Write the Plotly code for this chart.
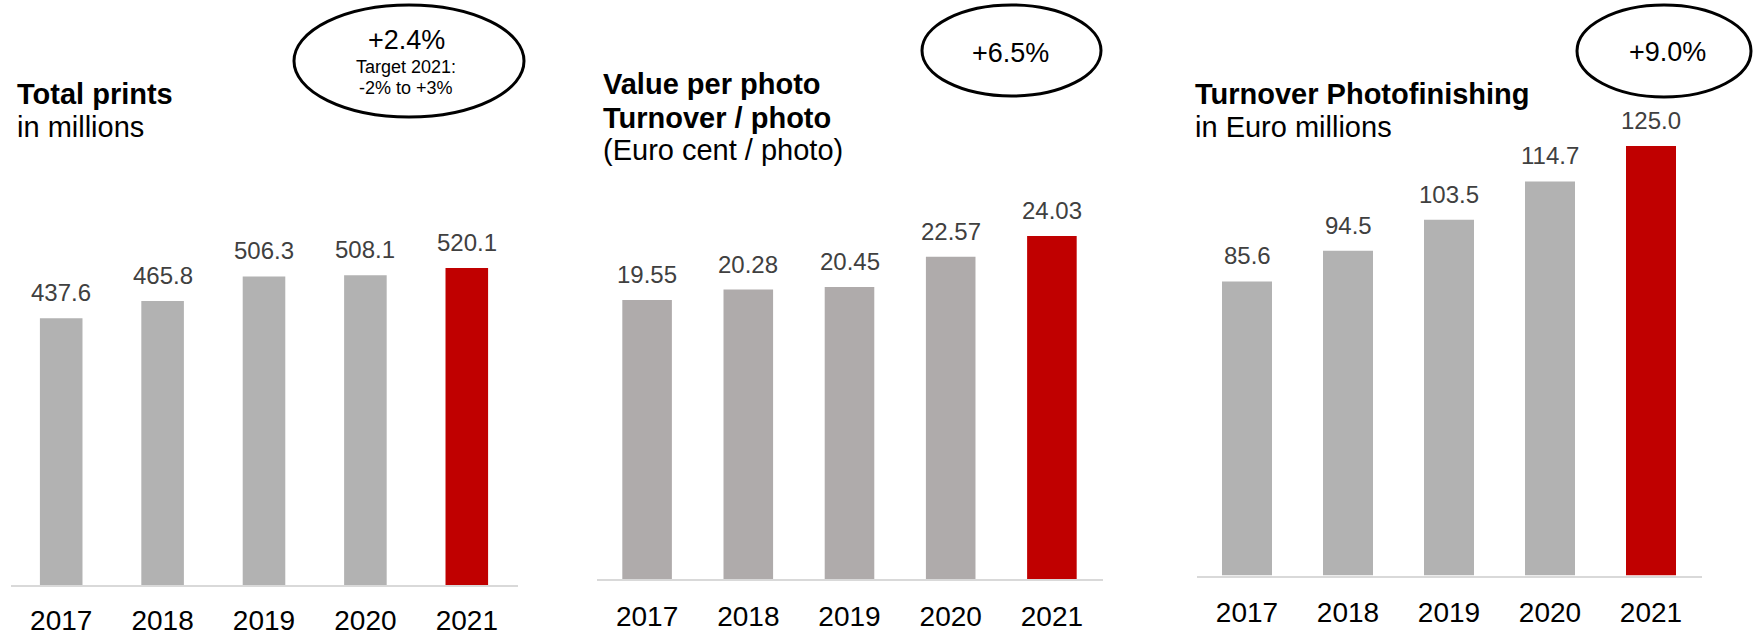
import plotly.graph_objects as go

# ---- data -------------------------------------------------------------
years = ["2017", "2018", "2019", "2020", "2021"]

total_prints = [437.6, 465.8, 506.3, 508.1, 520.1]            # millions
value_per_photo = [19.55, 20.28, 20.45, 22.57, 24.03]         # euro cent / photo
turnover_photofinishing = [85.6, 94.5, 103.5, 114.7, 125.0]   # euro millions

growth_labels = ["+2.4%", "+6.5%", "+9.0%"]
target_note = ["Target 2021:", "-2% to +3%"]

# ---- page geometry (pixels) -------------------------------------------
W, H = 1754, 635
FONT = "Arial, Liberation Sans, Helvetica, sans-serif"
GREY = "#b2b2b2"
GREY_WARM = "#afabab"
RED = "#c00000"
LABEL = "#404040"


def fx(px):
    return px / W


def fy(py):
    return 1 - py / H


panels = [
    dict(values=total_prints, fmt="{:.1f}", x0=10.5, x1=517.5,
         base=585.0, top=268.0, width=0.42, grey=GREY, standoff=9,
         title=["Total prints", "in millions"], title_x=15, title_y=[93.5, 126.5],
         ellipse=(294, 5, 524, 117)),
    dict(values=value_per_photo, fmt="{:.2f}", x0=596.5, x1=1102.5,
         base=579.0, top=236.0, width=0.49, grey=GREY_WARM, standoff=11,
         title=["Value per photo", "Turnover / photo", "(Euro cent / photo)"],
         title_x=601, title_y=[83.5, 117.5, 150.5],
         ellipse=(922, 5, 1101, 96)),
    dict(values=turnover_photofinishing, fmt="{:.1f}", x0=1196.5, x1=1701.5,
         base=575.5, top=146.0, width=0.495, grey=GREY, standoff=11,
         title=["Turnover Photofinishing", "in Euro millions"], title_x=1193,
         title_y=[93.5, 126.5],
         ellipse=(1577, 5, 1751, 97)),
]

DOMAIN_TOP = 100.0  # pixel row where every value axis ends

fig = go.Figure()
annotations = []
shapes = []

for i, p in enumerate(panels):
    n = i + 1
    xa = "x" if n == 1 else f"x{n}"
    ya = "y" if n == 1 else f"y{n}"
    vals = p["values"]
    colors = [p["grey"]] * (len(vals) - 1) + [RED]

    fig.add_trace(go.Bar(
        x=years, y=vals, xaxis=xa, yaxis=ya,
        marker=dict(color=colors, line=dict(width=0)),
        width=p["width"], showlegend=False, hoverinfo="x+y",
        cliponaxis=False,
    ))

    # value scale: the largest bar reaches p["top"]
    px_per_unit = (p["base"] - p["top"]) / max(vals)
    y_max = (p["base"] - DOMAIN_TOP) / px_per_unit

    axis_x = dict(
        domain=[fx(p["x0"]), fx(p["x1"])], type="category",
        range=[-0.5, len(years) - 0.5], automargin=False,
        showline=True, linecolor="#d9d9d9", linewidth=2,
        showgrid=False, zeroline=False, ticks="",
        ticklabelstandoff=p["standoff"],
        tickfont=dict(family=FONT, size=28, color="#000000"),
        anchor=ya, fixedrange=True,
    )
    axis_y = dict(
        domain=[fy(p["base"]), fy(DOMAIN_TOP)], range=[0, y_max],
        automargin=False,
        showticklabels=False, showline=False, ticks="",
        showgrid=False, zeroline=False,
        anchor=xa, fixedrange=True,
    )
    fig.update_layout(**{
        ("xaxis" if n == 1 else f"xaxis{n}"): axis_x,
        ("yaxis" if n == 1 else f"yaxis{n}"): axis_y,
    })

    # value labels above the bars
    for k, v in enumerate(vals):
        annotations.append(dict(
            x=k, y=v, xref=xa, yref=ya, text=p["fmt"].format(v),
            showarrow=False, xanchor="center", yanchor="bottom", yshift=10,
            font=dict(family=FONT, size=24, color=LABEL),
        ))

    # panel heading: first line(s) bold
    for j, (line, cy) in enumerate(zip(p["title"], p["title_y"])):
        bold = j == 0 or (n == 2 and j == 1)
        annotations.append(dict(
            x=fx(p["title_x"]), y=fy(cy), xref="paper", yref="paper",
            text=f"<b>{line}</b>" if bold else line,
            showarrow=False, xanchor="left", yanchor="middle",
            font=dict(family=FONT, size=29, color="#000000"),
        ))

    # growth bubble
    ex0, ey0, ex1, ey1 = p["ellipse"]
    shapes.append(dict(
        type="circle", xref="paper", yref="paper",
        x0=fx(ex0), x1=fx(ex1), y0=fy(ey1), y1=fy(ey0),
        line=dict(color="#000000", width=3), fillcolor="rgba(0,0,0,0)",
    ))


def bubble_text(text, cx, cy, size):
    annotations.append(dict(
        x=fx(cx), y=fy(cy), xref="paper", yref="paper", text=text,
        showarrow=False, xanchor="center", yanchor="middle",
        font=dict(family=FONT, size=size, color="#000000"),
    ))


bubble_text(growth_labels[0], 406, 40, 27)
bubble_text(target_note[0], 406, 67, 18)
bubble_text(target_note[1], 406, 88, 18)
bubble_text(growth_labels[1], 1010, 53, 27)
bubble_text(growth_labels[2], 1667, 52, 27)

fig.update_layout(
    width=W, height=H, autosize=False,
    margin=dict(l=0, r=0, t=0, b=0, pad=0, autoexpand=False),
    paper_bgcolor="#ffffff", plot_bgcolor="#ffffff",
    annotations=annotations, shapes=shapes,
    font=dict(family=FONT),
    showlegend=False,
)

fig.write_html("out.html", config={"displayModeBar": False})
